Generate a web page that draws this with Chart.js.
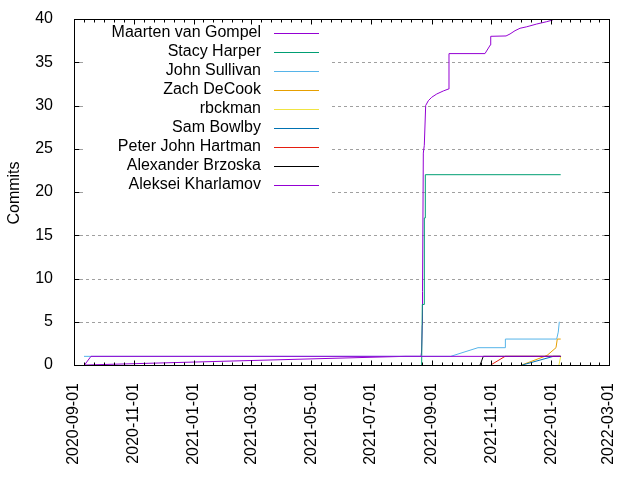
<!DOCTYPE html>
<html>
<head>
<meta charset="utf-8">
<script src="https://cdn.jsdelivr.net/npm/chart.js@4"></script>
<style>
html, body { margin: 0; padding: 0; background: #fff; }
canvas { display: block; }
</style>
</head>
<body>
<canvas id="commitsChart" width="640" height="480"></canvas>
<script>
// authors in legend order, gnuplot default colour cycle
const authors = ['Maarten van Gompel', 'Stacy Harper', 'John Sullivan', 'Zach DeCook', 'rbckman',
  'Sam Bowlby', 'Peter John Hartman', 'Alexander Brzoska', 'Aleksei Kharlamov'];
const colors = ['#9400d3', '#009e73', '#56b4e9', '#e69f00', '#f0e442', '#0072b2', '#e51e10', '#000000', '#9400d3'];

// cumulative commits per author
const maartenDates = ['2020-09-12T05:00', '2021-08-04T19:00', '2021-08-21T03:00', '2021-08-21T16:00', '2021-08-22T11:00',
  '2021-08-22T16:00', '2021-08-23T12:00', '2021-08-24T12:00', '2021-08-25T22:00', '2021-08-28T14:00', '2021-09-01T01:00',
  '2021-09-06T05:00', '2021-09-12T22:00', '2021-09-18T00:00', '2021-09-18T17:00', '2021-10-25T10:00', '2021-10-30T22:00',
  '2021-10-31T07:00', '2021-11-15T22:00', '2021-11-20T00:00', '2021-11-25T02:00', '2021-11-30T05:00', '2021-12-07T00:00',
  '2021-12-17T05:00', '2021-12-27T10:00', '2022-01-02T12:00', '2022-01-02T19:00'];
const maartenCommits = [0, 1, 1, 1.5, 4.6, 8.5, 24.5, 25.4, 30, 30.55, 30.95, 31.33, 31.68, 31.9, 36, 36, 37, 38,
  38.04, 38.27, 38.65, 38.93, 39.1, 39.42, 39.69, 39.88, 40];

const stacyDates = ['2021-08-21T19:00', '2021-08-22T11:00', '2021-08-24T12:00', '2021-08-24T13:00', '2021-08-25T12:00',
  '2021-08-25T13:00', '2022-01-10T17:00'];
const stacyCommits = [0, 7, 7, 17, 17, 22, 22];

const johnDates = ['2020-09-11T05:00', '2021-09-20T10:00', '2021-10-18T07:00', '2021-11-15T05:00', '2021-11-15T06:00',
  '2022-01-06T14:00', '2022-01-08T05:00', '2022-01-09T07:00'];
const johnCommits = [1, 1, 2, 2, 3, 3, 3.8, 5];

const zachDates = ['2021-12-01T22:00', '2021-12-27T17:00', '2022-01-05T22:00', '2022-01-07T05:00', '2022-01-10T17:00'];
const zachCommits = [0, 1.1, 2, 3, 3];

const rbckmanDates = ['2022-01-08T22:00', '2022-01-10T17:00'];
const rbckmanCommits = [0, 1];

const samDates = ['2021-12-02T12:00', '2022-01-03T05:00', '2022-01-10T17:00'];
const samCommits = [0, 1, 1];

const peterDates = ['2021-10-31T07:00', '2021-11-14T22:00', '2022-01-10T17:00'];
const peterCommits = [0, 1, 1];

const alexanderDates = ['2021-10-20T10:00', '2021-10-23T17:00', '2022-01-10T17:00'];
const alexanderCommits = [0, 1, 1];

const alekseiDates = ['2020-09-11T17:00', '2020-09-18T08:00', '2022-01-10T17:00'];
const alekseiCommits = [0, 1, 1];

const xTickLabels = ['2020-09-01', '2020-11-01', '2021-01-01', '2021-03-01', '2021-05-01', '2021-07-01',
  '2021-09-01', '2021-11-01', '2022-01-01', '2022-03-01'];
const yTicks = [0, 5, 10, 15, 20, 25, 30, 35, 40];

const seriesDates = [maartenDates, stacyDates, johnDates, zachDates, rbckmanDates, samDates, peterDates, alexanderDates, alekseiDates];
const seriesCommits = [maartenCommits, stacyCommits, johnCommits, zachCommits, rbckmanCommits, samCommits, peterCommits, alexanderCommits, alekseiCommits];

const toTime = s => Date.parse(s.length > 10 ? s + 'Z' : s + 'T00:00Z');
const xTickValues = xTickLabels.map(toTime);

const datasets = authors.map((name, i) => ({
  label: name,
  data: seriesDates[i].map((d, k) => ({ x: toTime(d), y: seriesCommits[i][k] })),
  borderColor: colors[i],
  backgroundColor: colors[i],
  borderWidth: 1,
  pointRadius: 0,
  tension: 0,
  fill: false,
  order: authors.length - i   // later series on top, like gnuplot
}));

const FONT = '16px "Liberation Sans", Arial, sans-serif';

const gnuplotFrame = {
  id: 'gnuplotFrame',
  beforeDatasetsDraw(chart) {
    const { ctx, chartArea: a, scales: { y } } = chart;
    ctx.save();
    ctx.strokeStyle = '#a0a0a0';
    ctx.lineWidth = 1;
    ctx.setLineDash([3, 3]);
    yTicks.slice(1, -1).forEach(v => {
      const py = Math.round(y.getPixelForValue(v)) + 0.5;
      ctx.beginPath();
      ctx.moveTo(a.left, py);
      ctx.lineTo(a.right, py);
      ctx.stroke();
    });
    // key area hides the grid
    ctx.setLineDash([]);
    ctx.fillStyle = '#fff';
    ctx.fillRect(83, 20, 246, 177);
    ctx.restore();
  },
  afterDatasetsDraw(chart) {
    const { ctx, chartArea: a, scales: { x, y } } = chart;
    const L = Math.round(a.left) + 0.5, R = Math.round(a.right) + 0.5;
    const T = Math.round(a.top) + 0.5, B = Math.round(a.bottom) + 0.5;
    ctx.save();
    ctx.strokeStyle = '#000';
    ctx.lineWidth = 1;
    ctx.strokeRect(L, T, R - L, B - T);
    ctx.beginPath();
    yTicks.forEach(v => {
      const py = Math.round(y.getPixelForValue(v)) + 0.5;
      ctx.moveTo(L, py); ctx.lineTo(L + 5, py);
      ctx.moveTo(R, py); ctx.lineTo(R - 5, py);
    });
    xTickValues.forEach((v, i) => {
      const px = Math.round(x.getPixelForValue(v)) + 0.5;
      ctx.moveTo(px, B); ctx.lineTo(px, B - 5);
      ctx.moveTo(px, T); ctx.lineTo(px, T + 5);
      if (i < xTickValues.length - 1) {
        const next = x.getPixelForValue(xTickValues[i + 1]);
        const cur = x.getPixelForValue(v);
        for (let k = 1; k < 6; k++) {
          const mx = Math.round(cur + (next - cur) * k / 6) + 0.5;
          ctx.moveTo(mx, B); ctx.lineTo(mx, B - 3);
          ctx.moveTo(mx, T); ctx.lineTo(mx, T + 3);
        }
      }
    });
    ctx.stroke();

    // key
    ctx.font = FONT;
    ctx.fillStyle = '#000';
    ctx.textAlign = 'right';
    ctx.textBaseline = 'middle';
    authors.forEach((name, i) => {
      const ry = 33 + 19 * i;
      ctx.fillText(name, 261, ry);
      ctx.strokeStyle = colors[i];
      ctx.beginPath();
      ctx.moveTo(274, ry + 0.5);
      ctx.lineTo(319, ry + 0.5);
      ctx.stroke();
    });

    // y axis title
    ctx.translate(15, 193);
    ctx.rotate(-Math.PI / 2);
    ctx.textAlign = 'center';
    ctx.fillText('Commits', 0, 0);
    ctx.restore();
  }
};

new Chart(document.getElementById('commitsChart'), {
  type: 'line',
  data: { datasets },
  options: {
    responsive: false,
    animation: false,
    devicePixelRatio: 1,
    layout: { padding: { top: 19, right: 31, left: 0, bottom: 0 } },
    scales: {
      x: {
        type: 'linear',
        min: xTickValues[0],
        max: xTickValues[xTickValues.length - 1],
        grid: { display: false },
        border: { display: false },
        afterBuildTicks: s => { s.ticks = xTickValues.map(v => ({ value: v })); },
        afterFit: s => { s.height = 115; },
        ticks: {
          autoSkip: false,
          minRotation: 90,
          maxRotation: 90,
          padding: 10,
          color: '#000',
          font: { family: '"Liberation Sans", Arial, sans-serif', size: 16 },
          callback: v => xTickLabels[xTickValues.indexOf(v)]
        }
      },
      y: {
        min: 0,
        max: 40,
        grid: { display: false },
        border: { display: false },
        afterFit: s => { s.width = 74; s.paddingTop = 0; s.paddingBottom = 0; },
        ticks: {
          stepSize: 5,
          padding: 13,
          color: '#000',
          font: { family: '"Liberation Sans", Arial, sans-serif', size: 16 }
        }
      }
    },
    plugins: {
      legend: { display: false },
      tooltip: { enabled: false }
    }
  },
  plugins: [gnuplotFrame]
});
</script>
</body>
</html>
